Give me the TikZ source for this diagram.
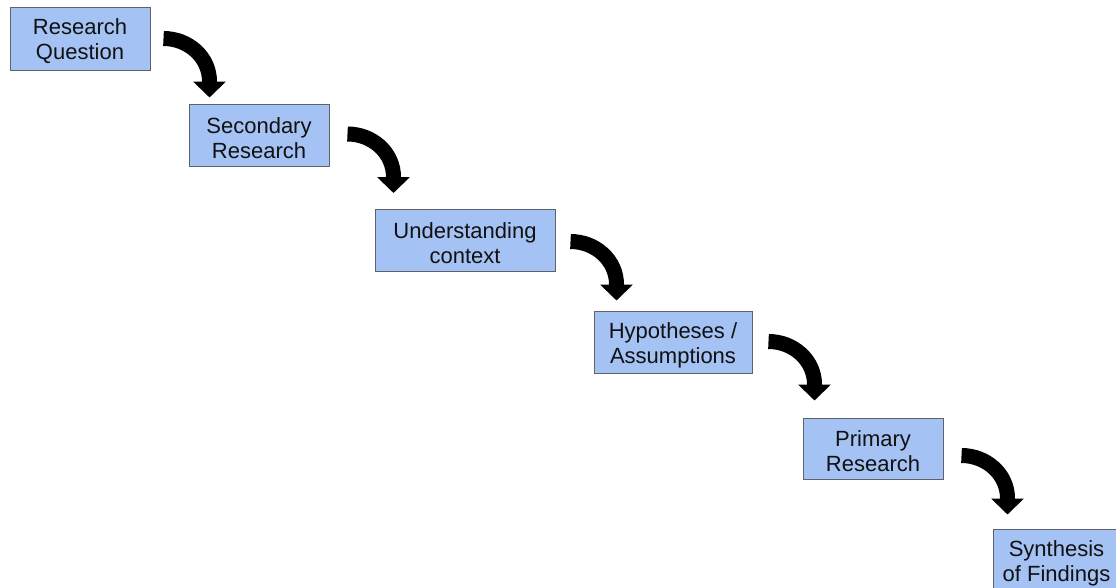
\documentclass[tikz,border=0pt]{standalone}
\usepackage{fontspec}
\setmainfont{Liberation Sans}
\usetikzlibrary{arrows.meta}
\definecolor{boxfill}{HTML}{A4C2F4}
\definecolor{boxline}{HTML}{5F6368}
\definecolor{txt}{HTML}{111111}
\newcommand{\topstrut}{\rule{0pt}{22pt}}
\begin{document}
\begin{tikzpicture}[x=1pt,y=1pt,
  stepbox/.style={draw=boxline, line width=1pt, fill=boxfill, text=txt,
    align=center, inner sep=0pt, minimum height=62pt,
    font=\fontsize{22}{25}\selectfont},
  bigarrow/.style={line width=15pt, -{Triangle[width=32pt,length=16pt]}}]
\useasboundingbox (0,0) rectangle (1116,-587);
\clip (0,0) rectangle (1116,-587);
\node[stepbox, minimum width=140pt, minimum height=63pt] (a) at (80,-38.5) {\topstrut Research\\Question};
\node[stepbox, minimum width=140pt] (b) at (259,-135) {\topstrut Secondary\\Research};
\node[stepbox, minimum width=180pt] (c) at (465,-240) {\topstrut Understanding\\context};
\node[stepbox, minimum width=158pt] (d) at (673,-342) {\topstrut Hypotheses /\\Assumptions};
\node[stepbox, minimum width=140pt, minimum height=61pt] (e) at (873,-448.5) {\topstrut Primary\\Research};
\node[stepbox, minimum width=127pt, minimum height=68pt] (f) at (1056.5,-563) {Synthesis\\of Findings};
\foreach \s/\t/\dx/\dy in {a/b/13/-32, b/c/18/-30.5, c/d/15/-33, d/e/16/-31, e/f/18/-38}{
  \draw[bigarrow] ([shift={(\dx,\dy)}]\s.north east) to[out=0,in=90] ++(46,-43) -- ++(0,-16);
}
\end{tikzpicture}
\end{document}
